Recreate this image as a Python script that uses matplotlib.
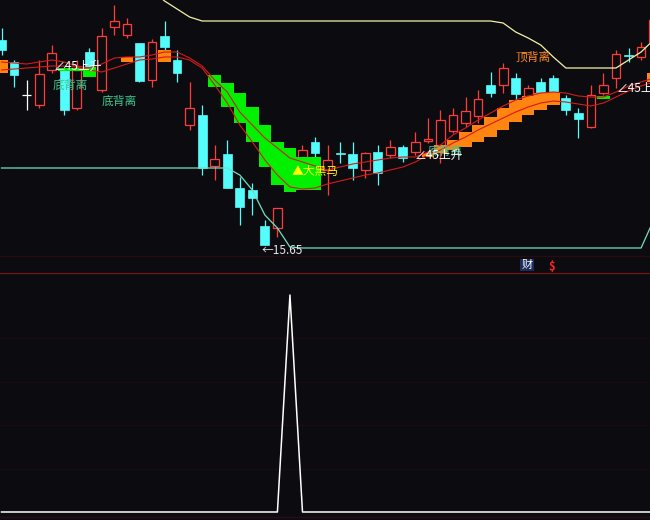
import numpy as np
import matplotlib
matplotlib.use('Agg')
import matplotlib.pyplot as plt
from matplotlib.patches import Rectangle
from matplotlib.lines import Line2D

plt.rcParams['font.family'] = ['Noto Sans CJK SC', 'DejaVu Sans']

nan = np.nan

# ---- price data (one entry per bar) ----
opens = [19.75, 19.31, 18.65, 18.45, 19.15, 19.15, 18.39, 19.51, 18.75, 20.01, 19.85, 19.69, 18.95, 19.83, 19.35,
         18.05, 18.25, 17.23, 17.47, 16.79, 16.75, 16.03, 15.99, 16.95, 17.15, 17.71, 17.15, 17.49, 17.47, 17.15,
         17.51, 17.45, 17.61, 17.51, 17.73, 17.65, 17.93, 18.09, 18.23, 18.85, 18.85, 18.99, 18.63, 18.91, 18.99,
         18.59, 18.29, 18.01, 18.69, 18.99, 19.45, 19.41, 19.71]
closes = [19.55, 19.05, 18.65, 19.07, 19.49, 18.35, 19.15, 19.15, 19.83, 20.13, 20.07, 18.93, 19.71, 19.61, 19.09,
          18.39, 17.19, 17.37, 16.79, 16.41, 16.59, 15.65, 16.39, 17.35, 17.55, 17.49, 17.35, 17.47, 17.19, 17.49,
          17.09, 17.61, 17.39, 17.71, 17.77, 18.15, 18.25, 18.33, 18.57, 18.69, 19.19, 18.67, 18.79, 18.71, 18.69,
          18.35, 18.17, 18.65, 18.85, 19.47, 19.43, 19.61, 20.15]
highs = [19.99, 19.35, 18.95, 19.35, 19.65, 19.23, 19.35, 19.59, 19.99, 20.45, 20.19, 19.69, 19.77, 20.13, 19.55,
         18.91, 18.45, 17.65, 17.75, 17.01, 16.89, 16.15, 16.39, 17.45, 17.65, 17.81, 17.65, 17.71, 17.71, 17.51,
         17.65, 17.75, 17.65, 17.91, 18.19, 18.35, 18.39, 18.61, 18.75, 19.11, 19.29, 19.09, 18.85, 18.99, 19.05,
         18.65, 18.39, 18.85, 19.09, 19.55, 19.59, 19.71, 20.35]
lows = [19.45, 18.81, 18.35, 18.39, 19.09, 18.25, 18.35, 19.07, 18.71, 19.85, 19.79, 18.91, 18.81, 19.55, 18.91,
        17.95, 17.05, 16.95, 16.79, 16.05, 16.25, 15.65, 15.81, 16.79, 16.95, 17.35, 16.65, 17.29, 16.95, 16.99,
        16.85, 17.39, 17.31, 17.45, 17.69, 17.29, 17.89, 18.01, 18.09, 18.61, 18.69, 18.55, 18.59, 18.65, 18.65,
        18.25, 17.79, 17.99, 18.65, 18.79, 19.31, 19.35, 19.65]

# moving-average style lines
ma_fast = [19.31, 19.29, 19.27, 19.31, 19.35, 19.31, 19.23, 19.19, 19.27, 19.39, 19.41, 19.41, 19.45, 19.51, 19.51,
           19.39, 19.23, 18.95, 18.71, 18.31, 18.05, 17.79, 17.59, 17.39, 17.31, 17.23, 17.15, 17.21, 17.27, 17.31,
           17.35, 17.39, 17.41, 17.41, 17.51, 17.65, 17.85, 17.99, 18.15, 18.29, 18.43, 18.55, 18.63, 18.69, 18.71,
           18.69, 18.63, 18.61, 18.61, 18.71, 18.83, 18.91, 18.99]
ma_slow = [19.15, 19.17, 19.19, 19.21, 19.23, 19.23, 19.21, 19.15, 19.11, 19.19, 19.27, 19.35, 19.37, 19.41, 19.41,
           19.35, 19.19, 18.85, 18.49, 18.05, 17.71, 17.35, 17.05, 16.81, 16.77, 16.79, 16.87, 16.93, 16.99, 17.05,
           17.09, 17.15, 17.21, 17.31, 17.45, 17.55, 17.69, 17.81, 17.95, 18.07, 18.19, 18.31, 18.41, 18.49, 18.53,
           18.51, 18.47, 18.43, 18.49, 18.61, 18.73, 18.83, 18.91]

# upper (cream) and lower (aqua) envelope lines
upper_line = [nan] * 12 + [20.75, 20.53, 20.37, 20.21] + [20.13] * 24 + \
             [20.09, 19.91, 19.79, 19.65, 19.41, 19.19, 19.19, 19.19, 19.19, 19.19, 19.35, 19.51, 19.75]
lower_line = [17.19] * 19 + [17.05, 16.75, 16.25, 15.99, 15.61] + [15.59] * 28 + [16.15]

# coloured band blocks
green_idx = [5, 6, 7, 17, 18, 19, 20, 21, 22, 23, 24, 25, 48]
green_hi = [19.19, 19.19, 19.21, 19.05, 18.89, 18.69, 18.41, 18.05, 17.71, 17.59, 17.41, 17.41, 18.63]
green_lo = [19.13, 19.13, 19.01, 18.81, 18.41, 18.09, 17.71, 17.21, 16.85, 16.71, 16.75, 16.75, 18.57]
orange_idx = [0, 10, 13, 34, 35, 36, 37, 38, 39, 40, 41, 42, 43, 44, 52]
orange_hi = [19.35, 19.41, 19.55, 17.49, 17.65, 17.75, 17.91, 18.05, 18.21, 18.39, 18.55, 18.63, 18.69, 18.71, 19.09]
orange_lo = [19.09, 19.31, 19.31, 17.41, 17.49, 17.55, 17.61, 17.71, 17.81, 17.95, 18.11, 18.25, 18.35, 18.45, 18.91]

# lower panel signal
signal = [0] * 23 + [100] + [0] * 29

BG = '#0c0c10'
RED = '#ff3c3c'
CYAN = '#54fcfc'

fig = plt.figure(figsize=(6.5, 5.2), dpi=100, facecolor=BG)
ax = fig.add_axes([0, 248 / 520, 1, 272 / 520], facecolor=BG)
ax2 = fig.add_axes([0, 0, 1, 247 / 520], facecolor=BG)
for a in (ax, ax2):
    a.axis('off')
    a.set_xlim(-0.12, 51.71)
ax.set_ylim(15.11, 20.55)
ax2.set_ylim(-3.69, 110.14)

n = len(opens)
x = np.arange(n)
bw = 0.7
for i in range(n):
    o, c, h, l = opens[i], closes[i], highs[i], lows[i]
    if c > o:
        ax.vlines(i, c, h, color=RED, lw=0.9, zorder=2)
        ax.vlines(i, l, o, color=RED, lw=0.9, zorder=2)
        ax.add_patch(Rectangle((i - bw / 2, o), bw, c - o, facecolor=BG, edgecolor=RED, lw=0.9, zorder=2))
    elif c < o:
        ax.vlines(i, l, h, color=CYAN, lw=0.9, zorder=2)
        ax.add_patch(Rectangle((i - bw / 2, c), bw, o - c, facecolor=CYAN, edgecolor=CYAN, lw=0.5, zorder=2))
    else:
        ax.vlines(i, l, h, color='white', lw=0.9, zorder=2)
        ax.hlines(o, i - bw / 2, i + bw / 2, color='white', lw=0.9, zorder=2)

gh, gl = np.array(green_hi), np.array(green_lo)
oh, ol = np.array(orange_hi), np.array(orange_lo)
ax.bar(green_idx, gh - gl, bottom=gl, width=1.0, color='#00f000', linewidth=0, zorder=3)
ax.bar(orange_idx, oh - ol, bottom=ol, width=1.0, color='#ff8410', linewidth=0, zorder=3)

ax.plot(x, ma_fast, color='#d41a1a', lw=0.8, zorder=4)
ax.plot(x, ma_slow, color='#d41a1a', lw=0.8, zorder=4)
ax.plot(x, upper_line, color='#f4f0a8', lw=0.9, zorder=4)
ax.plot(x, lower_line, color='#70e0c0', lw=0.9, zorder=4)

ax.axhline(15.43, color='#2a0c10', lw=0.8, zorder=1)
fig.add_artist(Line2D([0, 1], [(520 - 272.5) / 520] * 2, color='#7a1616', lw=0.9))

for v in (20, 40, 60, 80):
    ax2.axhline(v, color='#1c0c10', lw=0.8, zorder=1)
ax2.axhline(-2.3, color='#2e0c12', lw=0.8, zorder=1)
ax2.plot(x, signal, color='white', lw=1.1, zorder=3)

teal = '#40c890'
fs = 8.5
ax.text(4.19, 19.23, '∠45上升', color='white', fontsize=fs, ha='left', va='center', zorder=6)
ax.text(5.46, 18.85, '底背离', color=teal, fontsize=fs, ha='center', va='center', zorder=6)
ax.text(9.37, 18.53, '底背离', color=teal, fontsize=fs, ha='center', va='center', zorder=6)
ax.text(23.1, 17.13, '▲大黑马', color='#ffff00', fontsize=fs, ha='left', va='center', zorder=6)
ax.text(20.77, 15.55, '←15.65', color='#e6e6e6', fontsize=fs, ha='left', va='center', zorder=6)
ax.text(34.0, 17.53, '底背离', color=teal, fontsize=fs, ha='left', va='center', zorder=6)
ax.text(32.97, 17.45, '∠45上升', color='white', fontsize=fs, ha='left', va='center', zorder=6)
ax.text(42.38, 19.41, '顶背离', color='#ff8c28', fontsize=fs, ha='center', va='center', zorder=6)
ax.text(49.08, 18.79, '∠45上升', color='white', fontsize=fs, ha='left', va='center', zorder=6)
ax.text(41.9, 15.25, '财', color='white', fontsize=8, ha='center', va='center', zorder=6,
        bbox=dict(facecolor='#1c2c5c', edgecolor='none', pad=0.8))
ax.text(43.9, 15.23, r'\$', color='#ff2020', fontsize=8, fontweight='bold', ha='center', va='center', zorder=6)

fig.savefig('out.png', dpi=100, facecolor=BG)
